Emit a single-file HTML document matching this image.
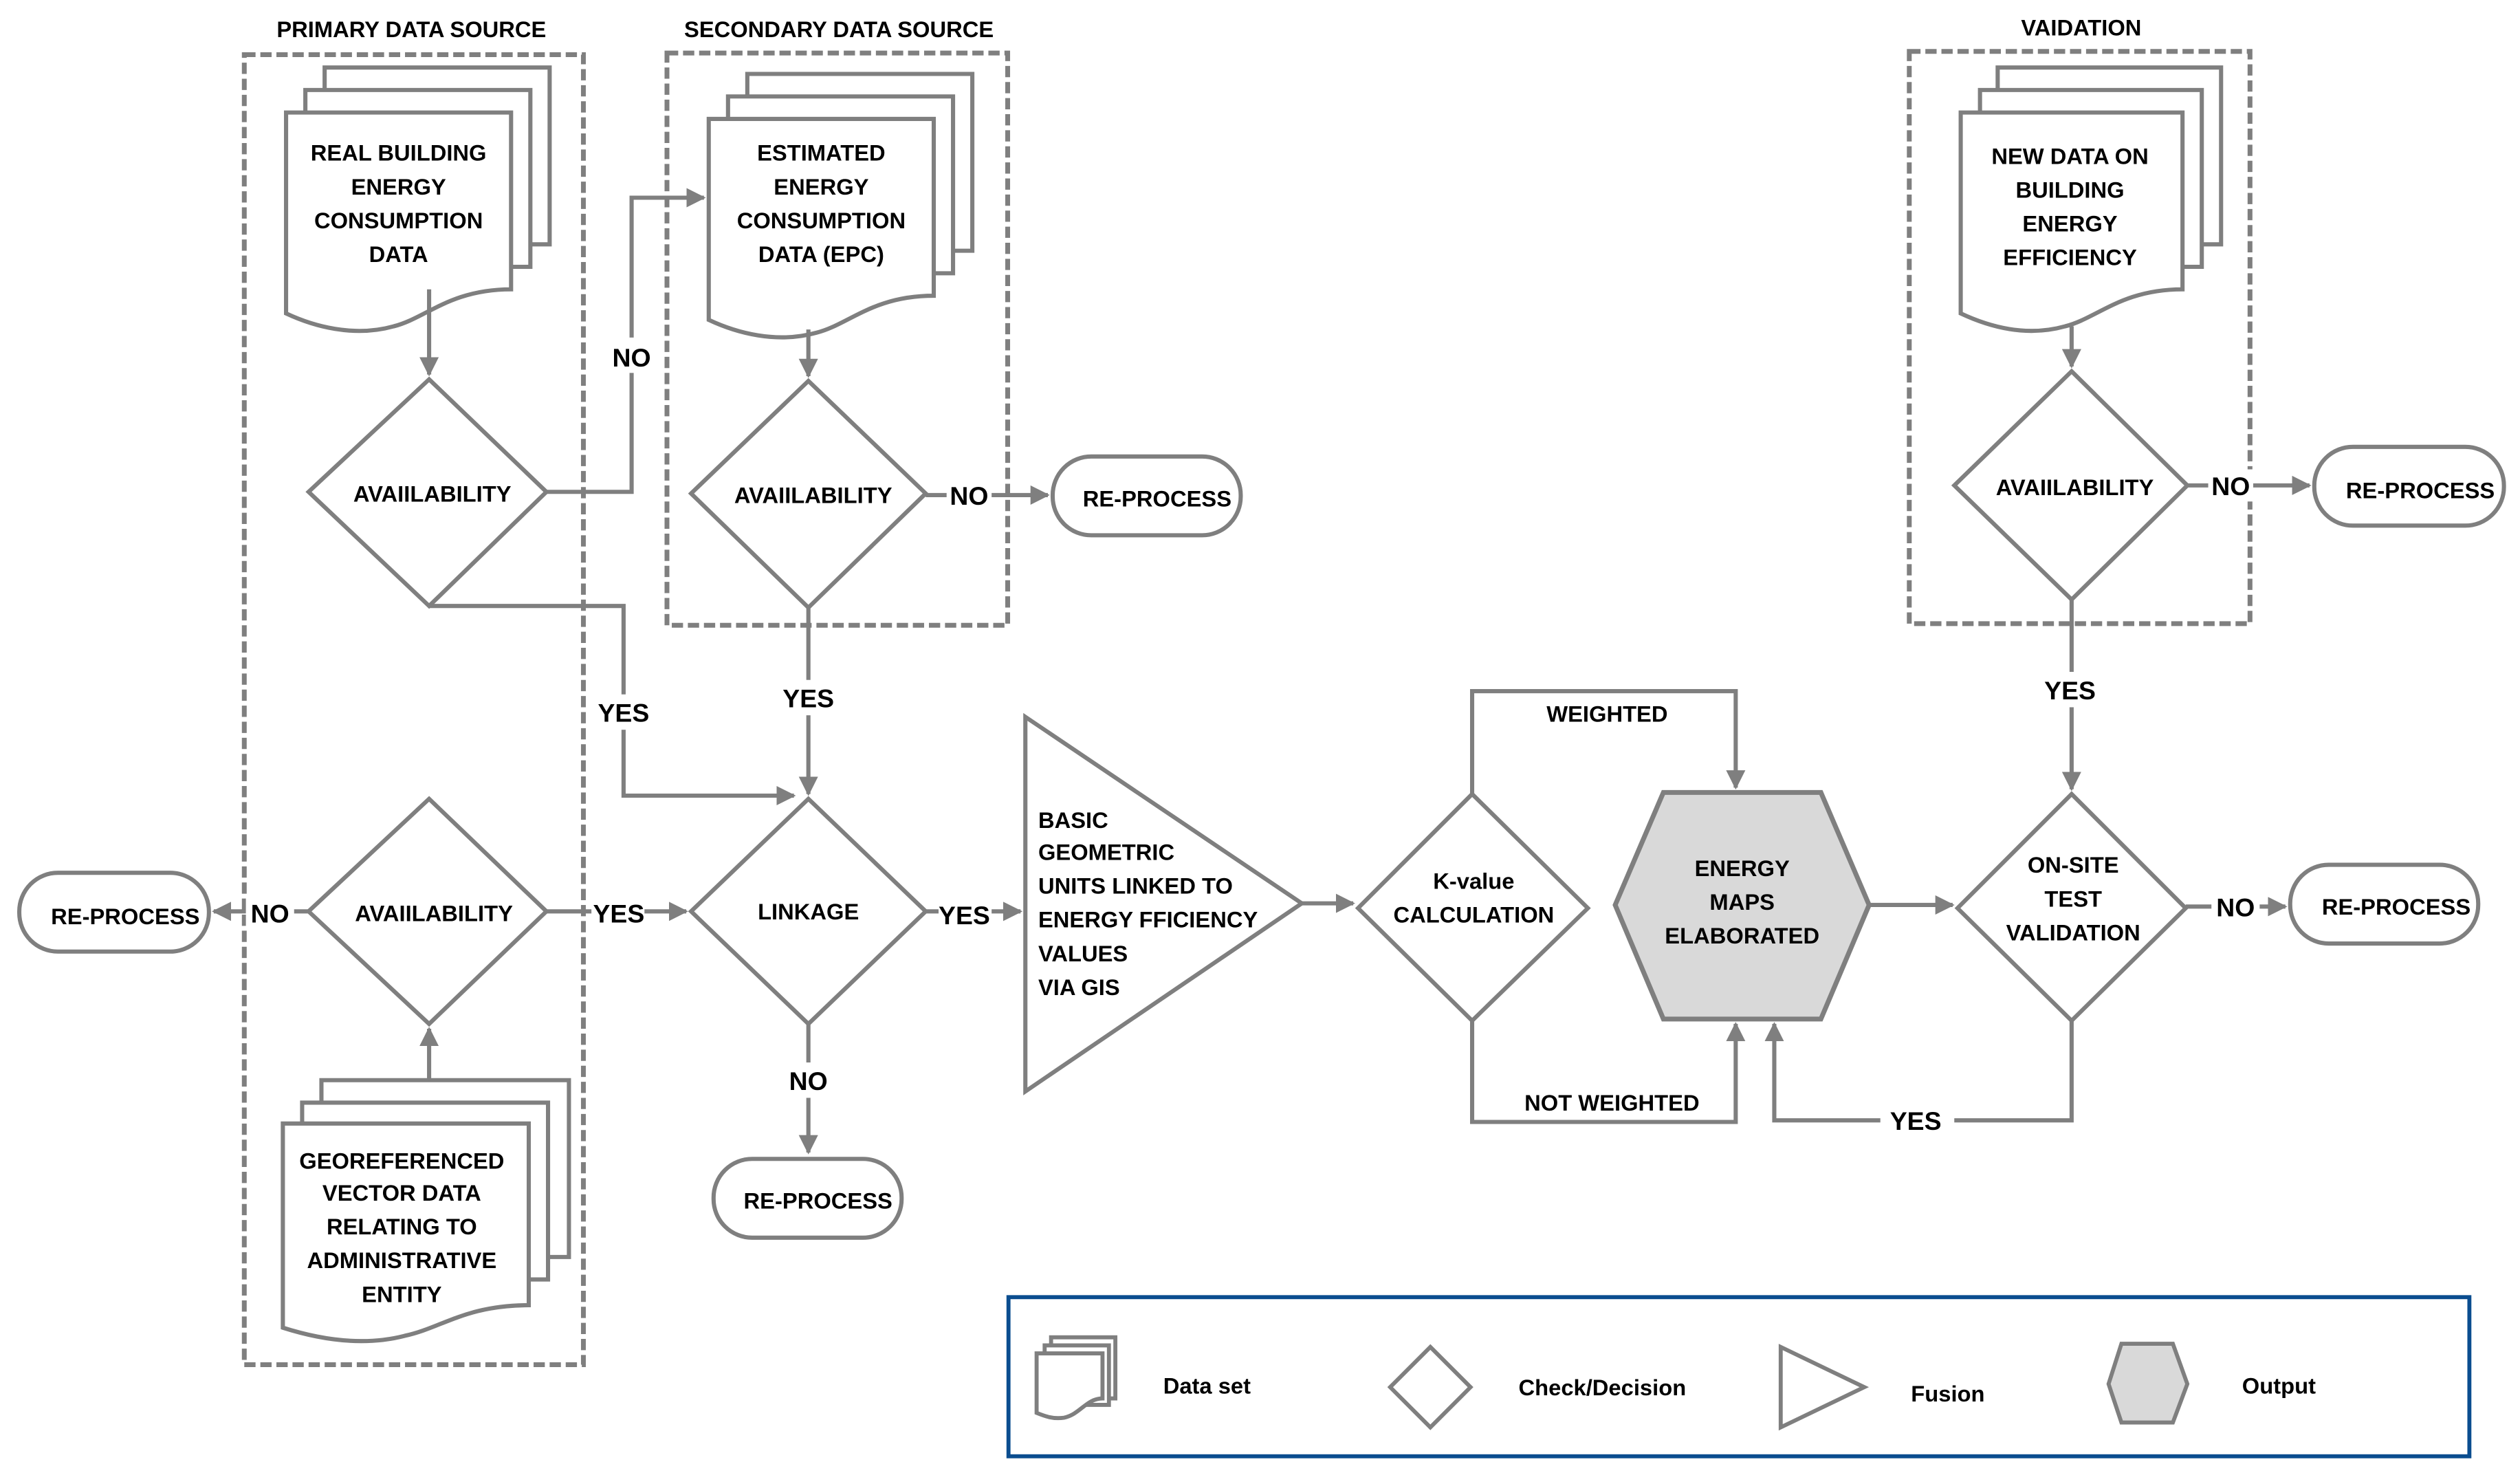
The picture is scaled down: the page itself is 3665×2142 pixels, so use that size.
<!DOCTYPE html>
<html><head><meta charset="utf-8"><style>
html,body{margin:0;padding:0;background:#fff}
svg{display:block}
text{font-family:"Liberation Sans Narrow","Liberation Sans",sans-serif;font-weight:bold;font-size:14px;fill:#000;text-anchor:middle}
text.s{text-anchor:start}
</style></head><body>
<svg width="3665" height="2142" viewBox="0 0 1568 916.4" preserveAspectRatio="none" xmlns="http://www.w3.org/2000/svg">
<defs>
<marker id="b" viewBox="0 0 10 10" markerWidth="12" markerHeight="12" refX="9" refY="5" orient="auto" markerUnits="userSpaceOnUse"><path d="M0,0 L10,5 L0,10 Z" fill="#7f7f7f"/></marker>
</defs>
<g fill="none" stroke="#7f7f7f" stroke-width="2.6">
<rect x="152" y="34" width="211" height="815" stroke-dasharray="7,3" stroke-width="3"/>
<rect x="415" y="33" width="212" height="356" stroke-dasharray="7,3" stroke-width="3"/>
<rect x="1188" y="32" width="212" height="356" stroke-dasharray="7,3" stroke-width="3"/>
</g>
<text x="256" y="23">PRIMARY DATA SOURCE</text>
<text x="522" y="23">SECONDARY DATA SOURCE</text>
<text x="1295" y="22">VAIDATION</text>

<g fill="#fff" stroke="#7f7f7f" stroke-width="2.6">
<path d="M202,42 H342 V152 H202 Z"/>
<path d="M190,56 H330 V166 H190 Z"/>
<path d="M178,70 H318 V180 C280,180 265,198 245,203 C220,210 195,203 178,195 Z"/>
<path d="M465,46 H605 V156 H465 Z"/>
<path d="M453,60 H593 V170 H453 Z"/>
<path d="M441,74 H581 V184 C543,184 528,202 508,207 C483,214 458,207 441,199 Z"/>
<path d="M1243,42 H1382 V152 H1243 Z"/>
<path d="M1232,56 H1370 V166 H1232 Z"/>
<path d="M1220,70 H1358 V180 C1320,180 1305,198 1285,203 C1260,210 1237,203 1220,195 Z"/>
<path d="M200,672 H354 V782 H200 Z"/>
<path d="M188,686 H341 V796 H188 Z"/>
<path d="M176,699 H329 V812 C290,812 275,826 252,831 C225,838 198,833 176,826 Z"/>
<path d="M267,236 L340,306 L267,377 L192,306 Z"/>
<path d="M503,237 L576,307 L503,378 L430,307 Z"/>
<path d="M1289,231 L1361,302 L1289,373 L1216,302 Z"/>
<path d="M267,497 L340,567 L267,637 L192,567 Z"/>
<path d="M503,497 L576,567 L503,637 L430,567 Z"/>
<path d="M916,494 L988,565 L916,635 L845,565 Z"/>
<path d="M1289,494 L1360,565 L1289,635 L1218,565 Z"/>
<path d="M638,446 L810,562 L638,679 Z"/>
<rect x="655" y="284" width="117" height="49" rx="24"/>
<rect x="12" y="543" width="118" height="49" rx="24"/>
<rect x="444" y="721" width="117" height="49" rx="24"/>
<rect x="1425" y="538" width="117" height="49" rx="24"/>
<rect x="1440" y="278" width="118" height="49" rx="24"/>
<path d="M1005,563 L1035,493 L1133,493 L1163,563 L1133,634 L1035,634 Z" fill="#d9d9d9" stroke-width="3"/>
</g>

<g fill="none" stroke="#7f7f7f" stroke-width="2.6">
<path d="M267,180 V233" marker-end="url(#b)"/>
<path d="M503,205 V234" marker-end="url(#b)"/>
<path d="M1289,203 V228" marker-end="url(#b)"/>
<path d="M340,306 H393 V123 H438" marker-end="url(#b)"/>
<path d="M267,377 H388 V495 H494" marker-end="url(#b)"/>
<path d="M503,378 V494" marker-end="url(#b)"/>
<path d="M576,308 H652" marker-end="url(#b)"/>
<path d="M1361,302 H1437" marker-end="url(#b)"/>
<path d="M1289,373 V491" marker-end="url(#b)"/>
<path d="M340,567 H427" marker-end="url(#b)"/>
<path d="M192,567 H133" marker-end="url(#b)"/>
<path d="M267,672 V640" marker-end="url(#b)"/>
<path d="M503,637 V717" marker-end="url(#b)"/>
<path d="M576,567 H635" marker-end="url(#b)"/>
<path d="M810,562 H842" marker-end="url(#b)"/>
<path d="M916,494 V430 H1080 V490" marker-end="url(#b)"/>
<path d="M916,635 V698 H1080 V637" marker-end="url(#b)"/>
<path d="M1163,563 H1215" marker-end="url(#b)"/>
<path d="M1360,564 H1422" marker-end="url(#b)"/>
<path d="M1289,635 V697 H1104 V637" marker-end="url(#b)"/>
</g>
<g fill="#fff">
<rect x="378" y="210" width="30" height="22"/>
<rect x="372" y="432" width="33" height="22"/>
<rect x="487" y="423" width="33" height="22"/>
<rect x="589" y="298" width="28" height="20"/>
<rect x="1374" y="292" width="28" height="20"/>
<rect x="1271" y="418" width="34" height="22"/>
<rect x="368" y="557" width="33" height="20"/>
<rect x="153" y="557" width="30" height="20"/>
<rect x="489" y="661" width="30" height="22"/>
<rect x="584" y="558" width="33" height="20"/>
<rect x="1376" y="553" width="30" height="20"/>
<rect x="1170" y="685" width="46" height="24"/>
</g>
<text x="393" y="228" style="font-size:16px">NO</text>
<text x="388" y="449" style="font-size:16px">YES</text>
<text x="503" y="440" style="font-size:16px">YES</text>
<text x="603" y="314" style="font-size:16px">NO</text>
<text x="1388" y="308" style="font-size:16px">NO</text>
<text x="1288" y="435" style="font-size:16px">YES</text>
<text x="385" y="574" style="font-size:16px">YES</text>
<text x="168" y="574" style="font-size:16px">NO</text>
<text x="503" y="678" style="font-size:16px">NO</text>
<text x="600" y="575" style="font-size:16px">YES</text>
<text x="1391" y="570" style="font-size:16px">NO</text>
<text x="1192" y="703" style="font-size:16px">YES</text>

<text x="248" y="100">REAL BUILDING</text>
<text x="248" y="121">ENERGY</text>
<text x="248" y="142">CONSUMPTION</text>
<text x="248" y="163">DATA</text>
<text x="511" y="100">ESTIMATED</text>
<text x="511" y="121">ENERGY</text>
<text x="511" y="142">CONSUMPTION</text>
<text x="511" y="163">DATA  (EPC)</text>
<text x="1288" y="102">NEW DATA ON</text>
<text x="1288" y="123">BUILDING</text>
<text x="1288" y="144">ENERGY</text>
<text x="1288" y="165">EFFICIENCY</text>
<text x="269" y="312">AVAIILABILITY</text>
<text x="506" y="313">AVAIILABILITY</text>
<text x="1291" y="308">AVAIILABILITY</text>
<text x="270" y="573">AVAIILABILITY</text>
<text x="503" y="572">LINKAGE</text>
<text x="720" y="315">RE-PROCESS</text>
<text x="1506" y="310">RE-PROCESS</text>
<text x="78" y="575">RE-PROCESS</text>
<text x="509" y="752">RE-PROCESS</text>
<text x="1491" y="569">RE-PROCESS</text>
<text x="250" y="727">GEOREFERENCED</text>
<text x="250" y="747">VECTOR DATA</text>
<text x="250" y="768">RELATING TO</text>
<text x="250" y="789">ADMINISTRATIVE</text>
<text x="250" y="810">ENTITY</text>
<text class="s" x="646" y="515">BASIC</text>
<text class="s" x="646" y="535">GEOMETRIC</text>
<text class="s" x="646" y="556">UNITS LINKED TO</text>
<text class="s" x="646" y="577">ENERGY FFICIENCY</text>
<text class="s" x="646" y="598">VALUES</text>
<text class="s" x="646" y="619">VIA GIS</text>
<text x="917" y="553">K-value</text>
<text x="917" y="574">CALCULATION</text>
<text x="1000" y="449">WEIGHTED</text>
<text x="1003" y="691">NOT WEIGHTED</text>
<text x="1084" y="545">ENERGY</text>
<text x="1084" y="566">MAPS</text>
<text x="1084" y="587">ELABORATED</text>
<text x="1290" y="543">ON-SITE</text>
<text x="1290" y="564">TEST</text>
<text x="1290" y="585">VALIDATION</text>

<rect x="627.5" y="807" width="909" height="99" fill="none" stroke="#0a4d8f" stroke-width="2.5"/>
<g fill="#fff" stroke="#7f7f7f" stroke-width="2.5">
<path d="M654,832 H694 V870 H654 Z"/>
<path d="M650,837 H690 V874 H650 Z"/>
<path d="M645,842 H686 V870 C676,870 672,880 662,882 C655,883 650,881 645,879 Z"/>
<path d="M890,838 L915,863 L890,888 L865,863 Z"/>
<path d="M1108,838 L1160,863 L1108,888 Z"/>
<path d="M1312,861 L1320,836 L1352,836 L1361,861 L1352,885 L1320,885 Z" fill="#d9d9d9"/>
</g>
<text x="751" y="867">Data set</text>
<text x="997" y="868">Check/Decision</text>
<text x="1212" y="872">Fusion</text>
<text x="1418" y="867">Output</text>
</svg>
</body></html>
